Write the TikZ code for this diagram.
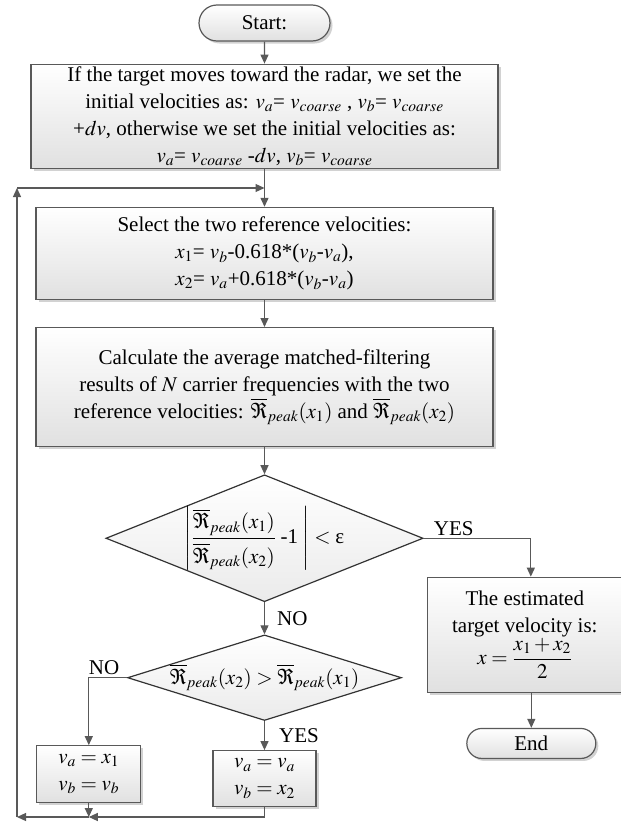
\documentclass[tikz,border=0pt]{standalone}
\usepackage{amsmath}
\usepackage{mathptmx}
\usepackage[no-math]{fontspec}
\setmainfont{Liberation Serif}
\usetikzlibrary{arrows.meta,shapes,shadows,positioning}

\begin{document}
\begin{tikzpicture}[x=1pt,y=-1pt,
  >={Triangle[length=9pt,width=8pt]},
  line width=1.2pt,
  color=black!65,
  every node/.style={font=\fontsize{21}{27}\selectfont, text=black},
  krok/.style={
  % The shape:
  rectangle,
  % The border:
  line width=1.2pt,
  draw=black!65,
  % The filling:
  top color=white, % white at the top...
  bottom color=black!12, % and light grey at the bottom
  drop shadow={shadow xshift=2.5pt,shadow yshift=-2.5pt,fill=black!35},
  align=center,
  inner sep=2pt
  },
  term/.style={
  % The shape:
  rounded rectangle,
  % The border:
  line width=1.2pt,
  draw=black!65,
  % The filling:
  top color=white,
  bottom color=black!12,
  drop shadow={shadow xshift=2.5pt,shadow yshift=-2.5pt,fill=black!35},
  inner sep=2pt
  },
  decyzja/.style={
  % The shape:
  diamond,
  % The border:
  line width=1.2pt,
  draw=black!80,
  % The filling:
  top color=white,
  bottom color=black!8,
  inner sep=0pt
  },
  lbl/.style={
  inner sep=2pt
  }]
  \useasboundingbox (0,0) rectangle (621,822);

  \node (start) [term,minimum width=135pt,minimum height=36pt] at (264.5,23) {Start:};
  \node (init) [krok,below=22pt of start,minimum width=467pt,minimum height=104pt]
    {If the target moves toward the radar, we set the\\
     initial velocities as: $v_a$= $v_{coarse}$ , $v_b$= $v_{coarse}$\\
     +$dv$, otherwise we set the initial velocities as:\\
     $v_a$= $v_{coarse}$ -$dv$, $v_b$= $v_{coarse}$};
  \node (sel) [krok,below=38pt of init,minimum width=457pt,minimum height=92pt]
    {Select the two reference velocities:\\
     $x_1$= $v_b$-0.618*($v_b$-$v_a$),\\
     $x_2$= $v_a$+0.618*($v_b$-$v_a$)};
  \node (calc) [krok,below=27pt of sel,minimum width=457pt,minimum height=119pt]
    {Calculate the average matched-filtering\\
     results of $N$ carrier frequencies with the two\\
     reference velocities: $\overline{\Re}_{peak}(x_1)$ and $\overline{\Re}_{peak}(x_2)$};
  \node (cond) [decyzja,below=27pt of calc,minimum width=314pt,minimum height=126pt,shape aspect=2.5]
    {$\left|\dfrac{\overline{\Re}_{peak}(x_1)\rule[-5pt]{0pt}{0pt}}{\rule{0pt}{22pt}\overline{\Re}_{peak}(x_2)}\;\text{-1}\;\right|<\text{ε}$};
  \node (cmp) [decyzja,below=32pt of cond,minimum width=270pt,minimum height=85pt,shape aspect=3.2]
    {$\overline{\Re}_{peak}(x_2)>\overline{\Re}_{peak}(x_1)$};
  \node (upd2) [krok,below=29pt of cmp,minimum width=103pt,minimum height=56pt]
    {$v_a=v_a$\\ $v_b=x_2$};
  \node (upd1) [krok,left=71pt of upd2,yshift=4.5pt,minimum width=104pt,minimum height=57pt]
    {$v_a=x_1$\\ $v_b=v_b$};
  \node (res) [krok,right=3pt of cond,yshift=-96.5pt,minimum width=195pt,minimum height=115pt]
    {The estimated\\ target velocity is:\\ $x=\dfrac{x_1+x_2}{2}$};
  \node (end) [term,below=35pt of res,xshift=6.5pt,minimum width=133pt,minimum height=30pt] {End};

  \coordinate (topleft) at (17,188);
  \coordinate (botleft) at (17,817);

  \draw[->] (start) -- (init);
  \draw[->] (init) -- (sel);
  \draw[->] (sel) -- (calc);
  \draw[->] (calc) -- (cond);
  \draw[->] (cond) -- node (noA) [lbl,right=10pt] {NO} (cmp);
  \draw[->] (cond.east) -| node (yesA) [lbl,pos=0.14,above] {YES} ([xshift=6pt]res.north);
  \draw[->] (res.south -| end.north) -- (end.north);
  \draw[->] (cmp.west) -| node (noB) [lbl,pos=0.3,above] {NO} (upd1.north);
  \draw[->] (cmp) -- node (yesB) [lbl,right=12pt] {YES} (upd2);

  % back to the start of the loop
  \draw[->] (upd1.south) -- (upd1.south |- botleft);
  \draw[->] (upd2.south) |- (upd1.south |- botleft);
  \draw[->] (upd1.south |- botleft) -- (botleft);
  \draw[->] (botleft) -- (topleft);
  \draw[->] (topleft) -- (init.south |- topleft);
\end{tikzpicture}
\end{document}
